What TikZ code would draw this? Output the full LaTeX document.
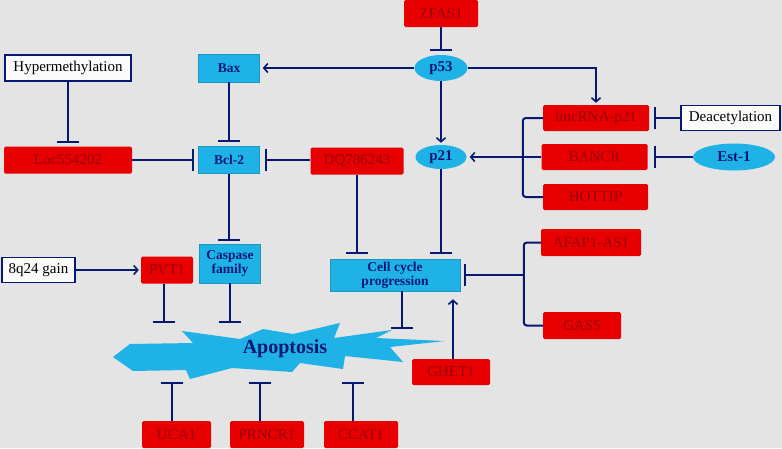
\documentclass[tikz,border=0pt]{standalone}
\usepackage{fontspec}
\setmainfont{Liberation Serif}
\usetikzlibrary{arrows.meta,shapes.geometric}
\definecolor{bg}{RGB}{228,228,228}
\definecolor{rbox}{RGB}{232,0,0}
\definecolor{rtext}{RGB}{150,0,10}
\definecolor{cbox}{RGB}{30,178,230}
\definecolor{navy}{RGB}{5,25,115}
\begin{document}
\begin{tikzpicture}[x=1pt,y=-1pt,
  redbox/.style={fill=rbox, rounded corners=1.5pt, inner sep=0pt, text=rtext, font=\fontsize{15}{15}\selectfont},
  cyanbox/.style={fill=cbox, draw=cbox!85!black, line width=0.5pt, inner sep=0pt, text=navy, align=center, font=\fontsize{13.5}{14}\selectfont\bfseries},
  whitebox/.style={fill=white!85!bg, draw=navy, line width=1.5pt, inner sep=0pt, font=\fontsize{15}{15}\selectfont},
  oval/.style={ellipse, fill=cbox, inner sep=0pt, text=navy, font=\fontsize{15}{15}\selectfont\bfseries},
  conn/.style={draw=navy, line width=2pt},
  inh/.style={conn, -{Bar[width=22pt,line width=2pt]}},
  act/.style={conn, -{Straight Barb[length=4pt,width=9pt,line width=1.6pt]}}
]
\fill[bg] (0,0) rectangle (782,448);
\useasboundingbox (0,0) rectangle (782,448);

% starburst
\fill[cbox] (113,357) -- (130,344) -- (193,343) -- (182,331) -- (240,339) -- (263,329) -- (293,334)
  -- (340,323) -- (334,338) -- (392,330) -- (376,338) -- (445,341) -- (390,347) -- (403,362)
  -- (345,356) -- (343,369) -- (300,363) -- (292,372) -- (232,368) -- (190,379) -- (186,370)
  -- (133,371) -- cycle;
\node[text=navy, font=\fontsize{20}{20}\selectfont\bfseries] (apo) at (285,349) {Apoptosis};

% nodes
\node[redbox, minimum width=74pt, minimum height=27pt] (zfas) at (441,13.5) {ZFAS1};
\node[oval, minimum width=53pt, minimum height=26pt] (p53) at (441,68) {p53};
\node[cyanbox, minimum width=61pt, minimum height=28pt] (bax) at (229,68) {Bax};
\node[whitebox, minimum width=126pt, minimum height=26pt] (hyper) at (68,68) {Hypermethylation};
\node[redbox, minimum width=128pt, minimum height=27pt] (loc) at (68,160) {Loc554202};
\node[cyanbox, minimum width=61pt, minimum height=27pt] (bcl) at (229,160) {Bcl-2};
\node[redbox, minimum width=93pt, minimum height=27pt] (dq) at (357,161) {DQ786243};
\node[redbox, minimum width=106pt, minimum height=26pt] (linc) at (596,118) {lincRNA-p21};
\node[whitebox, minimum width=99pt, minimum height=25pt] (deac) at (730.5,118) {Deacetylation};
\node[redbox, minimum width=106pt, minimum height=26pt] (bancr) at (594.5,157) {BANCR};
\node[oval, minimum width=82pt, minimum height=27pt] (est) at (734,157) {Est-1};
\node[redbox, minimum width=105pt, minimum height=26pt] (hottip) at (595.5,197) {HOTTIP};
\node[oval, minimum width=51pt, minimum height=24pt] (p21) at (441,157) {p21};
\node[cyanbox, minimum width=130pt, minimum height=32pt] (cell) at (395,275) {Cell cycle\\progression};
\node[redbox, minimum width=100pt, minimum height=27pt] (afap) at (591,242.5) {AFAP1-AS1};
\node[redbox, minimum width=78pt, minimum height=27pt] (gas) at (582,325.5) {GAS5};
\node[whitebox, minimum width=73pt, minimum height=25pt] (q24) at (38.5,270) {8q24 gain};
\node[redbox, minimum width=52pt, minimum height=27pt] (pvt) at (167,270) {PVT1};
\node[cyanbox, minimum width=61pt, minimum height=39pt] (casp) at (230,263.5) {Caspase\\family};
\node[redbox, minimum width=78pt, minimum height=26pt] (ghet) at (451,372) {GHET1};
\node[redbox, minimum width=69pt, minimum height=27pt] (uca) at (176.5,434.5) {UCA1};
\node[redbox, minimum width=74pt, minimum height=27pt] (prn) at (267,434.5) {PRNCR1};
\node[redbox, minimum width=74pt, minimum height=27pt] (ccat) at (361,434.5) {CCAT1};

% connectors
\draw[inh, shorten >=4pt] (zfas.south) -- (p53.north);
\draw[act, shorten >=3pt] (p53.west) -- (bax.east);
\draw[act, shorten >=2pt] (p53.east) -| (linc.north);
\draw[act, shorten >=2pt] (p53.south) -- (p21.north);
\draw[inh, shorten >=3pt] (hyper.south) -- (loc.north);
\draw[inh, shorten >=4pt] (bax.south) -- (bax.south |- bcl.north);
\draw[inh, shorten >=4pt] (loc.east |- bcl.west) -- (bcl.west);
\draw[inh, shorten >=5pt] (dq.west |- bcl.east) -- (bcl.east);
\draw[inh, shorten >=3pt] (bcl.south) -- (bcl.south |- casp.north);
\draw[inh, shorten >=5pt] (dq.south) -- (dq.south |- cell.north);
\draw[inh, shorten >=5pt] (p21.south) -- (p21.south |- cell.north);
\draw[act, shorten >=3pt] (bancr.west) -- (p21.east);
\draw[conn, rounded corners=3pt] (linc.west) -- ++(-20,0) |- (hottip.west);
\draw[inh, shorten >=5pt] (deac.west) -- (linc.east);
\draw[inh, shorten >=6pt] (est.west) -- (bancr.east);
\draw[conn, rounded corners=3pt] (afap.west) -- ++(-17,0) |- (gas.west);
\coordinate (cj) at (524,275);
\draw[inh, shorten >=4pt] (cj) -- (cell.east);
\draw[act, shorten >=2pt] (q24.east) -- (pvt.west);

\coordinate (aPVT) at (164,323);
\coordinate (aCAS) at (230,323);
\coordinate (aCELL) at (402,329);
\coordinate (aUCA) at (172,382);
\coordinate (aPRN) at (260,382);
\coordinate (aCCA) at (353,382);
\coordinate (gt) at (453,299);
\draw[inh] (pvt.south -| aPVT) -- (aPVT);
\draw[inh] (casp.south) -- (aCAS);
\draw[inh] (cell.south -| aCELL) -- (aCELL);
\draw[act, shorten >=8pt] (ghet.north -| gt) -- (cell.south -| gt);
\draw[inh] (uca.north -| aUCA) -- (aUCA);
\draw[inh] (prn.north -| aPRN) -- (aPRN);
\draw[inh] (ccat.north -| aCCA) -- (aCCA);
\end{tikzpicture}
\end{document}
